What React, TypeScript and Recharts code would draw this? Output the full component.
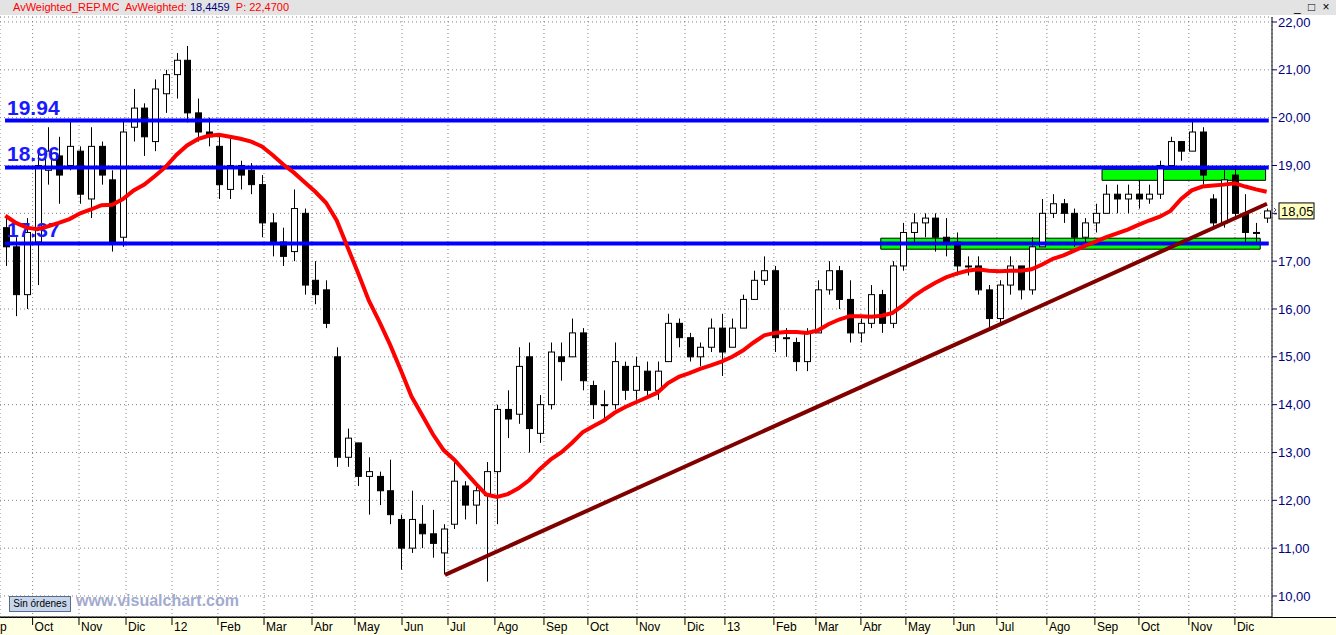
import React from 'react';
import {
  ComposedChart,
  Bar,
  Line,
  XAxis,
  YAxis,
  CartesianGrid,
  ReferenceLine,
  ReferenceArea,
} from 'recharts';

// Weekly OHLC of REP.MC, Sep 2011 – Dec 2013
const weekOpen = [
  17.7, 17.3, 16.3, 17.4, 18.9, 19.2, 19.0, 19.3, 18.3, 19.4,
  18.7, 17.5, 19.8, 20.2, 19.5, 20.5, 20.9, 21.2, 20.1, 19.7,
  19.4, 18.5, 19.0, 18.9, 18.6, 17.8, 17.4, 17.2, 18.0, 16.6,
  16.4, 15.0, 12.9, 13.2, 12.5, 12.5, 12.2, 11.6, 11.0, 11.5,
  11.3, 10.9, 11.5, 12.3, 11.9, 12.1, 12.6, 13.9, 13.8, 15.0,
  13.4, 14.0, 15.0, 15.0, 15.5, 14.4, 14.0, 14.0, 14.8, 14.3,
  14.7, 14.3, 14.9, 15.7, 15.4, 15.0, 15.2, 15.6, 15.2, 15.6,
  16.2, 16.6, 16.8, 15.4, 15.3, 14.9, 15.5, 16.4, 16.8, 16.2,
  15.5, 15.7, 16.3, 15.7, 16.9, 17.6, 17.8, 17.9, 17.5, 17.4,
  16.9, 16.9, 16.4, 15.8, 16.5, 16.9, 16.4, 17.3, 18.0, 18.2,
  18.0, 17.5, 17.8, 18.0, 18.4, 18.3, 18.4, 18.3, 18.4, 19.0,
  19.5, 19.3, 19.7, 18.3, 17.8, 18.8, 18.0, 17.6, 17.9,
];
const weekHigh = [
  17.9, 17.5, 17.9, 19.3, 19.8, 19.6, 19.95, 19.4, 19.8, 19.5,
  18.9, 19.95, 20.6, 20.3, 20.8, 21.0, 21.35, 21.5, 20.4, 20.0,
  19.6, 19.6, 19.1, 19.05, 18.8, 18.0, 17.7, 18.5, 18.1, 17.0,
  16.6, 15.2, 13.5, 13.2, 12.9, 12.6, 12.85, 11.7, 12.2, 11.9,
  11.8, 11.5, 12.8, 12.4, 12.3, 12.8, 14.0, 14.3, 15.2, 15.3,
  14.2, 15.3, 15.3, 15.8, 15.6, 14.5, 14.3, 15.3, 14.9, 15.0,
  14.9, 14.9, 15.9, 15.8, 15.5, 15.3, 15.8, 15.9, 15.8, 16.3,
  16.8, 17.1, 16.9, 15.6, 15.4, 15.6, 16.6, 17.0, 16.9, 16.6,
  15.8, 16.5, 16.4, 17.0, 17.8, 18.0, 18.0, 18.0, 17.9, 17.6,
  17.1, 17.1, 16.5, 16.6, 17.1, 16.9, 17.5, 18.3, 18.4, 18.3,
  18.1, 17.9, 18.2, 18.6, 18.6, 18.6, 18.7, 18.6, 19.1, 19.6,
  19.5, 19.95, 19.8, 18.4, 18.9, 19.0, 18.4, 17.8, 18.1,
];
const weekLow = [
  16.9, 15.85, 16.0, 16.5, 18.6, 18.2, 18.9, 18.2, 17.9, 18.6,
  17.2, 17.3, 19.5, 19.2, 19.3, 20.1, 20.4, 19.9, 19.5, 19.4,
  18.3, 18.3, 18.5, 18.4, 17.5, 17.1, 16.9, 17.0, 16.3, 16.1,
  15.6, 12.7, 12.7, 12.3, 11.7, 11.9, 11.5, 10.55, 10.9, 11.0,
  10.8, 10.45, 11.4, 11.6, 11.5, 10.3, 11.5, 13.3, 13.6, 13.0,
  13.2, 13.9, 14.5, 15.0, 14.3, 13.7, 13.7, 13.9, 14.1, 14.1,
  14.2, 14.1, 14.9, 15.2, 14.9, 14.8, 15.1, 14.6, 15.2, 15.6,
  16.2, 16.5, 15.1, 15.0, 14.7, 14.7, 15.5, 16.3, 16.0, 15.3,
  15.3, 15.6, 15.5, 15.6, 16.8, 17.4, 17.5, 17.2, 17.1, 16.7,
  16.7, 16.3, 15.6, 15.7, 16.3, 16.2, 16.3, 17.3, 17.9, 17.8,
  17.3, 17.4, 17.6, 18.0, 18.0, 18.0, 18.1, 18.2, 18.3, 18.95,
  19.1, 19.3, 18.6, 17.7, 17.7, 17.9, 17.4, 17.4, 17.8,
];
const weekClose = [
  17.3, 16.3, 17.6, 19.0, 19.3, 18.8, 19.4, 18.4, 19.4, 18.8,
  17.4, 19.7, 20.2, 19.6, 20.6, 20.9, 21.2, 20.1, 19.7, 19.6,
  18.6, 19.0, 18.8, 18.6, 17.8, 17.4, 17.1, 18.1, 16.5, 16.3,
  15.7, 12.9, 13.3, 12.5, 12.6, 12.2, 11.7, 11.0, 11.6, 11.3,
  11.1, 11.4, 12.4, 11.9, 12.2, 12.6, 13.9, 13.7, 14.8, 13.5,
  14.0, 15.1, 14.9, 15.5, 14.5, 14.0, 14.0, 14.9, 14.3, 14.8,
  14.3, 14.7, 15.7, 15.4, 15.0, 15.2, 15.6, 15.1, 15.6, 16.2,
  16.6, 16.8, 15.4, 15.4, 14.9, 15.5, 16.4, 16.8, 16.2, 15.5,
  15.7, 16.3, 15.7, 16.9, 17.6, 17.8, 17.9, 17.5, 17.4, 16.9,
  16.9, 16.4, 15.8, 16.5, 16.9, 16.4, 17.3, 18.0, 18.2, 18.0,
  17.5, 17.8, 18.0, 18.4, 18.3, 18.4, 18.3, 18.4, 19.0, 19.5,
  19.3, 19.7, 18.8, 17.8, 18.7, 18.0, 17.6, 17.6, 18.05,
];
// Red moving average (AvWeighted)
const movingAvg = [
  17.95, 17.8, 17.7, 17.67, 17.73, 17.8, 17.88, 18.0, 18.08, 18.17,
  18.18, 18.3, 18.48, 18.6, 18.78, 18.97, 19.22, 19.42, 19.55, 19.62,
  19.64, 19.6, 19.56, 19.5, 19.4, 19.22, 19.02, 18.85, 18.65, 18.45,
  18.22, 17.85, 17.3, 16.75, 16.18, 15.73, 15.25, 14.72, 14.17, 13.78,
  13.38, 13.05, 12.85, 12.6, 12.35, 12.12, 12.07, 12.13, 12.25, 12.42,
  12.65, 12.85, 13.0, 13.2, 13.42, 13.55, 13.67, 13.83, 13.95, 14.05,
  14.15, 14.25, 14.45, 14.58, 14.66, 14.75, 14.82, 14.9, 15.0, 15.13,
  15.3, 15.45, 15.5, 15.52, 15.52, 15.5, 15.55, 15.68, 15.78, 15.85,
  15.85, 15.84, 15.86, 15.92, 16.08, 16.27, 16.42, 16.55, 16.66, 16.74,
  16.8, 16.83, 16.8, 16.79, 16.8, 16.8, 16.83, 16.93, 17.05, 17.12,
  17.22, 17.32, 17.41, 17.5, 17.58, 17.66, 17.76, 17.85, 17.93, 18.05,
  18.3, 18.48, 18.56, 18.58, 18.6, 18.63, 18.56, 18.5, 18.45,
];

// Month labels and their position on the week axis
const monthLabels = [
  'Sep', 'Oct', 'Nov', 'Dic', '12', 'Feb', 'Mar', 'Abr', 'May', 'Jun', 'Jul', 'Ago',
  'Sep', 'Oct', 'Nov', 'Dic', '13', 'Feb', 'Mar', 'Abr', 'May', 'Jun', 'Jul', 'Ago',
  'Sep', 'Oct', 'Nov', 'Dic',
];
const monthPos = [
  -1.56, 3.05, 7.39, 11.79, 16.09, 20.39, 24.7, 29.19, 33.21, 37.61, 41.91, 46.3,
  50.89, 55.0, 59.59, 64.08, 67.82, 72.4, 76.33, 80.54, 84.75, 89.24, 93.26, 97.94,
  102.43, 106.55, 111.22, 115.53,
];

const priceTicks = [10, 11, 12, 13, 14, 15, 16, 17, 18, 19, 20, 21, 22];
const levelValues = [19.94, 18.96, 17.37];
const levelLabels = ['19.94', '18.96', '17.37'];
const levelStart = 0.47;
const levelEnd = 118.7;
const zoneX1 = [103.1, 82.4];
const zoneX2 = [118.4, 117.9];
const zoneY1 = [18.69, 17.25];
const zoneY2 = [18.92, 17.48];
const trendX = [41.63, 118.53];
const trendY = [10.44, 18.2];
const lastPrice = 18.05;

const data = weekOpen.map((o, i) => ({
  x: i + 0.5,
  open: o,
  high: weekHigh[i],
  low: weekLow[i],
  close: weekClose[i],
  ma: movingAvg[i],
}));

const Candle = (props: any) => {
  const { x, y, width, height, payload } = props;
  if (!payload) return null;
  const { open, close, high, low } = payload;
  const top = Math.min(y, y + height);
  const h = Math.abs(height);
  const per = h / (high - low || 1);
  const toY = (v: number) => top + (high - v) * per;
  const cx = Math.round(x + width / 2) + 0.5;
  const up = close >= open;
  const bTop = toY(Math.max(open, close));
  const bBot = toY(Math.min(open, close));
  const bw = 6;
  return (
    <g>
      <line x1={cx} x2={cx} y1={top} y2={top + h} stroke="#000" strokeWidth={1} />
      <rect
        x={cx - bw / 2}
        y={bTop}
        width={bw}
        height={Math.max(1, bBot - bTop)}
        fill={up ? '#fff' : '#000'}
        stroke="#000"
        strokeWidth={1}
      />
    </g>
  );
};

const MonthTick = (props: any) => {
  const { x, y, index } = props;
  return (
    <g>
      <line x1={x} x2={x} y1={y} y2={y + 8} stroke="#000" strokeWidth={1} />
      <text x={x + 2} y={y + 14} fontSize={12} fontFamily="Arial, Liberation Sans, sans-serif" fill="#000">
        {monthLabels[index]}
      </text>
    </g>
  );
};

const fmt = (v: number) => v.toFixed(2).replace('.', ',');
// the current-price box covers the tick label it sits on
const axisFmt = (v: number) => (Math.abs(v - lastPrice) < 0.3 ? '' : fmt(v));

export default function App() {
  return (
    <div style={{ position: 'fixed', left: 0, top: 0, width: 1336, height: 635, background: '#fff', overflow: 'hidden' }}>
      <div style={{ position: 'absolute', left: 0, top: 0, width: 1336, height: 15, background: '#e3e3e3' }} />
      <div style={{ position: 'absolute', left: 0, top: 617, width: 1336, height: 18, background: '#ffffe1' }} />
      <div style={{ position: 'absolute', left: 0, top: 617, width: 1336, height: 1, background: '#000' }} />
      <div
        style={{
          position: 'absolute', left: 13, top: 1, fontSize: 11, lineHeight: '13px',
          fontFamily: 'Arial, Liberation Sans, sans-serif', whiteSpace: 'pre', color: '#ff0000',
        }}
      >
        {'AvWeighted_REP.MC  AvWeighted: '}
        <span style={{ color: '#000080' }}>18,4459</span>
        {'  P: 22,4700'}
      </div>
      <div
        style={{
          position: 'absolute', left: 1294, top: 0, fontSize: 12, lineHeight: '14px',
          fontFamily: 'Arial, Liberation Sans, sans-serif', whiteSpace: 'pre', color: '#000', letterSpacing: 2,
        }}
      >
        {'_ □ ×'}
      </div>
      <div style={{ position: 'absolute', left: 0, top: 0 }}>
        <ComposedChart
          width={1336}
          height={635}
          data={data}
          margin={{ top: 17, right: 0, bottom: 0, left: 0 }}
        >
          <CartesianGrid stroke="#808080" strokeDasharray="1 3" />
          <XAxis
            dataKey="x"
            type="number"
            domain={[0, 119]}
            ticks={monthPos}
            interval={0}
            allowDataOverflow
            height={18}
            tickSize={0}
            tickMargin={0}
            tickLine={false}
            axisLine={{ stroke: '#000' }}
            tick={<MonthTick />}
          />
          <YAxis
            orientation="right"
            type="number"
            domain={[9.5605, 22.1045]}
            ticks={priceTicks}
            allowDataOverflow
            width={64}
            tickSize={5}
            tickMargin={1}
            tickLine={{ stroke: '#000080' }}
            axisLine={{ stroke: '#000' }}
            tickFormatter={axisFmt}
            tick={{ fill: '#000080', fontSize: 13, fontFamily: 'Arial, Liberation Sans, sans-serif', textAnchor: 'start' }}
          />
          {zoneX1.map((x1, i) => (
            <ReferenceArea
              key={'z' + i}
              x1={x1}
              x2={zoneX2[i]}
              y1={zoneY1[i]}
              y2={zoneY2[i]}
              fill="#00ff00"
              fillOpacity={1}
              stroke="#000"
              strokeWidth={1}
            />
          ))}
          <Bar
            dataKey={(d: any) => [d.low, d.high]}
            barSize={7}
            shape={<Candle />}
            isAnimationActive={false}
          />
          {levelValues.map((v, i) => (
            <ReferenceLine
              key={'l' + i}
              segment={[{ x: levelStart, y: v }, { x: levelEnd, y: v }]}
              stroke="#0000ff"
              strokeWidth={4}
              label={{
                content: (p: any) => (
                  <text
                    x={(p.viewBox?.x ?? 5) + 2}
                    y={(p.viewBox?.y ?? 0) - 6}
                    fontSize={21}
                    fontWeight="bold"
                    fontFamily="Arial, Liberation Sans, sans-serif"
                    fill="#1a1aff"
                  >
                    {levelLabels[i]}
                  </text>
                ),
              }}
            />
          ))}
          <Line
            dataKey="ma"
            type="linear"
            stroke="#ff0000"
            strokeWidth={4}
            dot={false}
            activeDot={false}
            isAnimationActive={false}
          />
          <ReferenceLine
            segment={[{ x: trendX[0], y: trendY[0] }, { x: trendX[1], y: trendY[1] }]}
            stroke="#800000"
            strokeWidth={4}
          />
          <ReferenceLine
            y={lastPrice}
            stroke="none"
            ifOverflow="visible"
            label={{
              content: (p: any) => {
                const vx = (p.viewBox?.x ?? 0) + (p.viewBox?.width ?? 1272);
                const vy = p.viewBox?.y ?? 211;
                return (
                  <g>
                    <path d={`M${vx + 2},${vy - 3} l2,2 l-2,2 M${vx + 2},${vy + 3} h3`} stroke="#404040" fill="none" strokeWidth={1} />
                    <rect x={vx + 7} y={vy - 8} width={35} height={16} fill="#ffffc0" stroke="#000" strokeWidth={1} />
                    <text x={vx + 9} y={vy + 5} fontSize={13} fontFamily="Arial, Liberation Sans, sans-serif" fill="#000">
                      {fmt(lastPrice)}
                    </text>
                  </g>
                );
              },
            }}
          />
        </ComposedChart>
      </div>
      <div
        style={{
          position: 'absolute', left: 9, top: 596, width: 60, height: 14, background: '#c8d6ec',
          border: '1px solid #5a6a8a', fontSize: 10, lineHeight: '14px', textAlign: 'center',
          fontFamily: 'Arial, Liberation Sans, sans-serif', color: '#000',
        }}
      >
        Sin órdenes
      </div>
      <div
        style={{
          position: 'absolute', left: 76, top: 592, fontSize: 16, fontWeight: 'bold', lineHeight: '18px',
          fontFamily: 'Arial, Liberation Sans, sans-serif', color: '#a3abcf',
        }}
      >
        www.visualchart.com
      </div>
    </div>
  );
}
